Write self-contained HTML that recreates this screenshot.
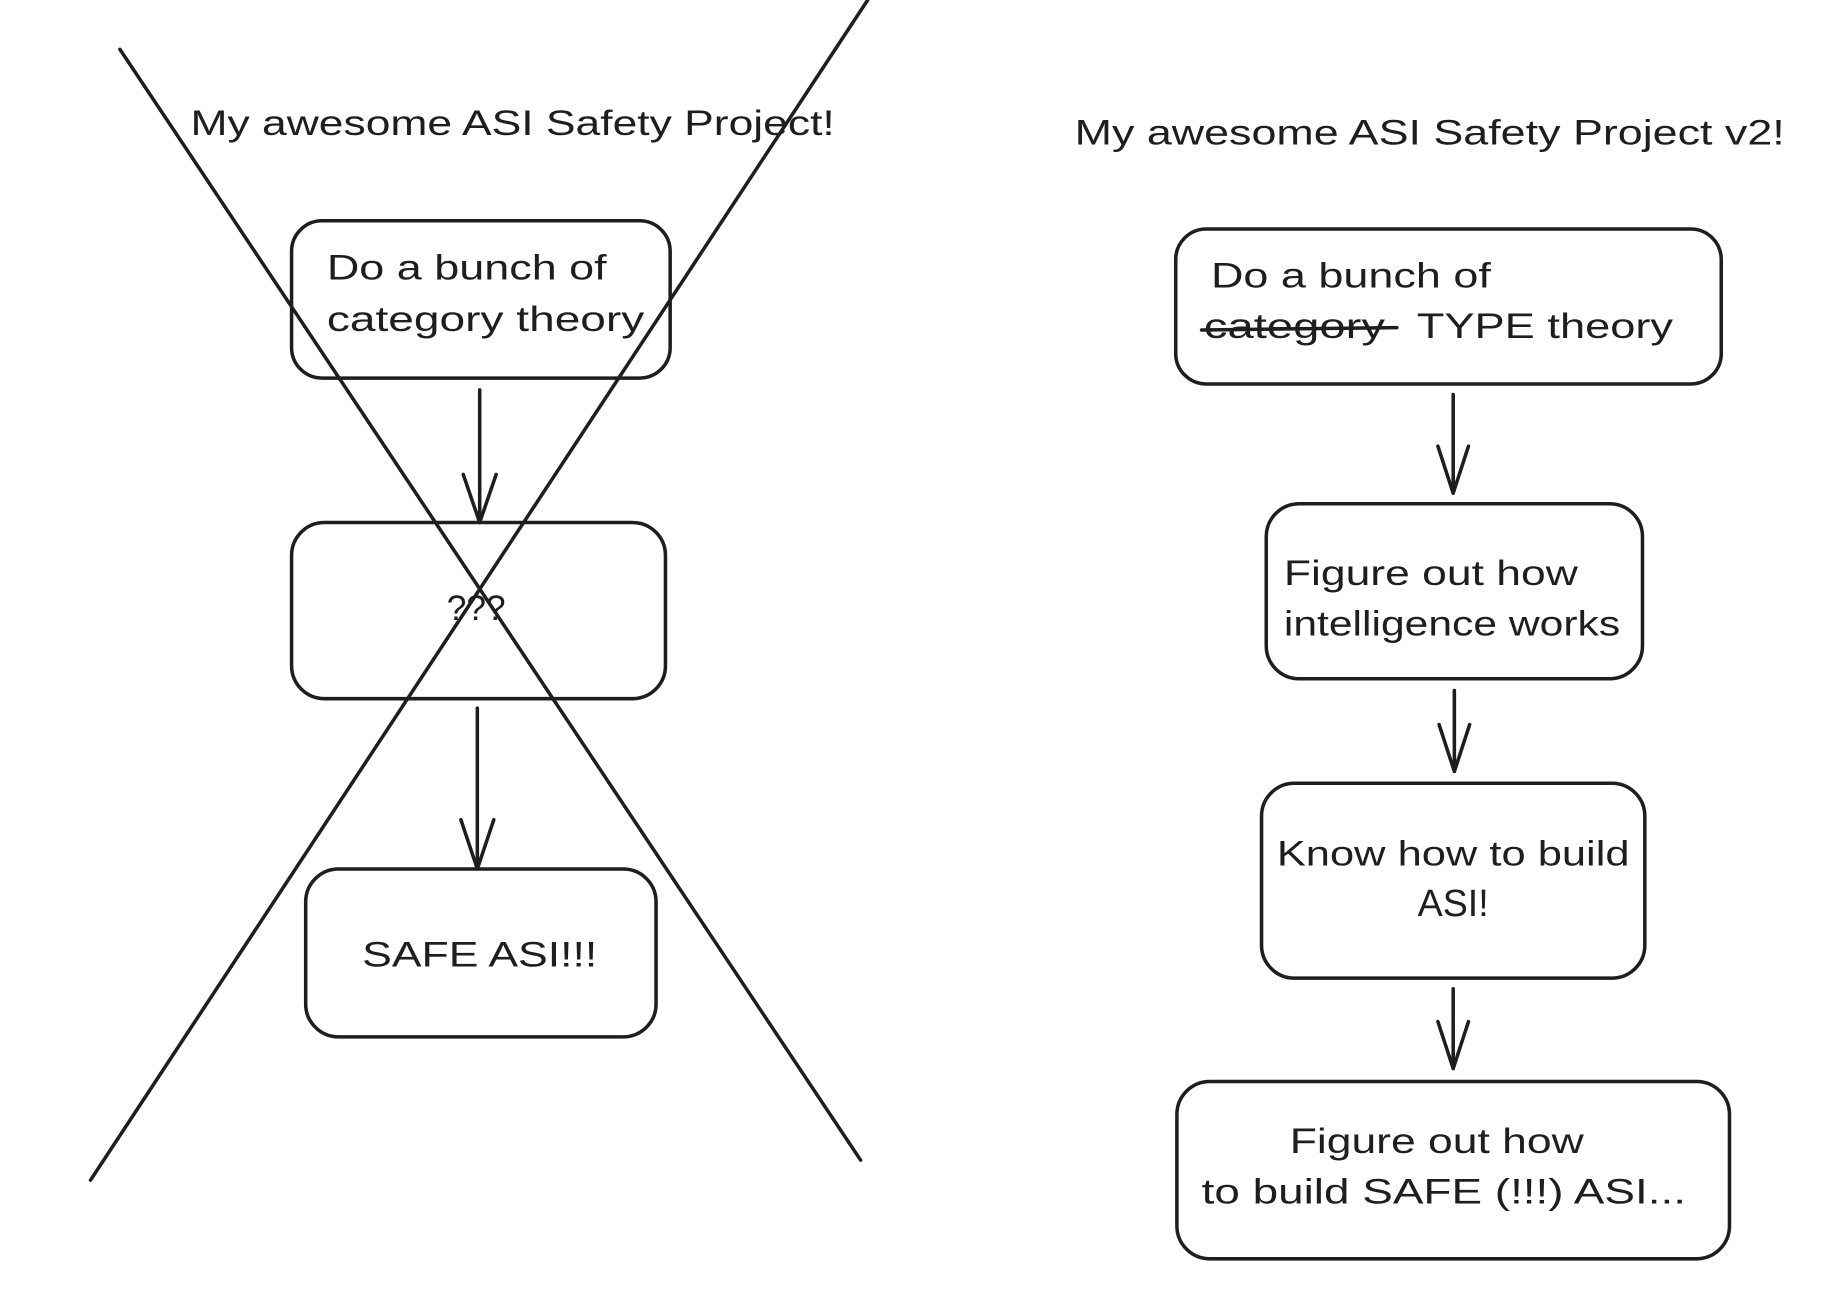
<!DOCTYPE html>
<html><head><meta charset="utf-8"><style>html,body{margin:0;padding:0;background:#fff}svg{display:block}</style></head>
<body>
<svg width="1840" height="1314" viewBox="0 0 1565 1119" preserveAspectRatio="none" xmlns="http://www.w3.org/2000/svg">
<g fill="none" stroke="#1e1e1e" stroke-width="3" stroke-linecap="round" stroke-linejoin="round">
<rect x="248" y="188" width="322" height="134" rx="26"/>
<rect x="248" y="445" width="318" height="150" rx="28"/>
<rect x="260" y="740" width="298" height="143" rx="28"/>
<rect x="1000" y="195" width="464" height="132" rx="26"/>
<rect x="1077" y="429" width="320" height="149" rx="28"/>
<rect x="1073" y="667" width="326" height="166" rx="28"/>
<rect x="1001" y="921" width="470" height="151" rx="28"/>
<path d="M408 332 L408 445 M394 404 L408 445 L422 404"/>
<path d="M406 603 L406 740 M392 698 L406 740 L420 698"/>
<path d="M1236 336 L1236 420 M1223 380 L1236 420 L1249 380"/>
<path d="M1237 588 L1237 657 M1224 617 L1237 657 L1250 617"/>
<path d="M1236 842 L1236 910 M1223 870 L1236 910 L1249 870"/>
<path d="M102 42 L732 988"/>
<path d="M738 0 L77 1005"/>
<path d="M1022 281 L1188 279"/>
</g>
<g font-family="Liberation Sans, sans-serif" fill="#1e1e1e" font-size="30">
<text x="162" y="115" textLength="548" lengthAdjust="spacingAndGlyphs">My awesome ASI Safety Project!</text>
<text x="914" y="123" textLength="604" lengthAdjust="spacingAndGlyphs">My awesome ASI Safety Project v2!</text>
<text x="278" y="238" textLength="238" lengthAdjust="spacingAndGlyphs">Do a bunch of</text>
<text x="278" y="282" textLength="270" lengthAdjust="spacingAndGlyphs">category theory</text>
<text x="405" y="528" text-anchor="middle">???</text>
<text x="308" y="823" textLength="200" lengthAdjust="spacingAndGlyphs">SAFE ASI!!!</text>
<text x="1030" y="245" textLength="238" lengthAdjust="spacingAndGlyphs">Do a bunch of</text>
<text x="1024" y="288" textLength="154" lengthAdjust="spacingAndGlyphs">category</text>
<text x="1205" y="288" textLength="218" lengthAdjust="spacingAndGlyphs">TYPE theory</text>
<text x="1092" y="498" textLength="250" lengthAdjust="spacingAndGlyphs">Figure out how</text>
<text x="1092" y="541" textLength="286" lengthAdjust="spacingAndGlyphs">intelligence works</text>
<text x="1086" y="737" textLength="300" lengthAdjust="spacingAndGlyphs">Know how to build</text>
<text x="1236" y="780" text-anchor="middle" font-size="32">ASI!</text>
<text x="1097" y="982" textLength="250" lengthAdjust="spacingAndGlyphs">Figure out how</text>
<text x="1022" y="1025" textLength="412" lengthAdjust="spacingAndGlyphs">to build SAFE (!!!) ASI...</text>
</g>
</svg>
</body></html>
